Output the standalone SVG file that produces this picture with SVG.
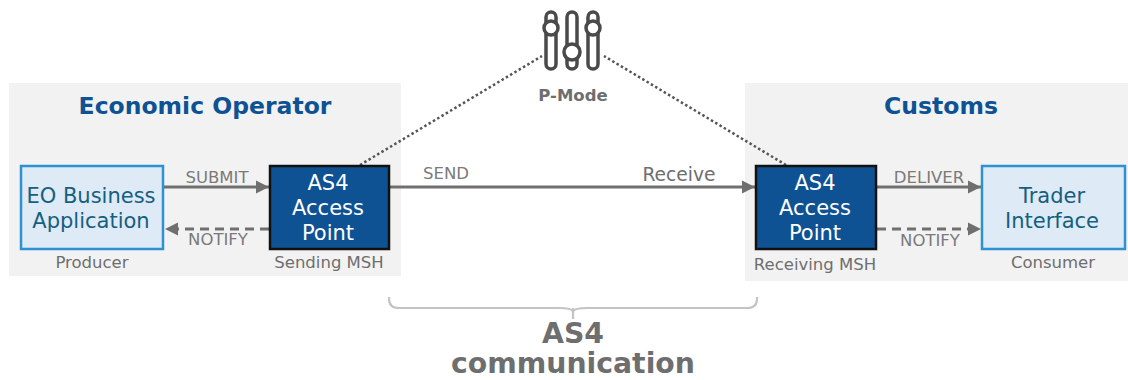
<svg xmlns="http://www.w3.org/2000/svg" width="1128" height="380" viewBox="0 0 1128 380">
<style>
text{font-family:"DejaVu Sans",Verdana,sans-serif;text-anchor:middle}
.panel{fill:#f2f2f2}
.title{font-size:23.500px;font-weight:bold;fill:#0f5294}
.app rect{fill:#deeaf6;stroke:#2e92d2;stroke-width:2.500}
.app text{font-size:21px;fill:#15607f}
.ap rect{fill:#0f5294;stroke:#111;stroke-width:2.500}
.ap text{font-size:21px;fill:#fff}
.cap{font-size:16.500px;fill:#6e6e6e}
.lbl{font-size:16.500px;fill:#7a7a7a}
.c{fill:none;stroke:#6f6f6f;stroke-width:3}
.d{stroke-dasharray:9 6}
.dot{fill:none;stroke:#555;stroke-width:2.500;stroke-dasharray:2.500 2.500}
.ic{fill:#fff;stroke:#4a4a4a;stroke-width:3.500}
.big{font-size:28.300px;font-weight:bold;fill:#6e6e6e}
</style>
<defs>
<marker id="a" markerUnits="userSpaceOnUse" markerWidth="16" markerHeight="16" refX="14" refY="8" orient="auto"><path d="M1 1.500L14 8L1 14.500Z" fill="#6f6f6f"/></marker>
</defs>
<g id="panel-eo"><rect class="panel" x="9" y="83" width="392" height="193"/><text class="title" x="205" y="114">Economic Operator</text></g>
<g id="panel-customs"><rect class="panel" x="745" y="83" width="383" height="198"/><text class="title" x="941" y="114">Customs</text></g>
<g id="connectors">
<path class="c" d="M164 187H269" marker-end="url(#a)"/>
<path class="c d" d="M269 229H165" marker-end="url(#a)"/>
<path class="c" d="M390 187H755" marker-end="url(#a)"/>
<path class="c" d="M877 187H981" marker-end="url(#a)"/>
<path class="c d" d="M877 229H981" marker-end="url(#a)"/>
<path class="dot" d="M360 165L542 56"/>
<path class="dot" d="M786 165L604 56"/>
<path d="M389 297V299Q389 308 399 308H558Q573 308 573 312Q573 308 588 308H747Q757 308 757 299V297M573 308V319" fill="none" stroke="#c4c4c4" stroke-width="2.200"/>
</g>
<g id="eo-app" class="app"><rect x="21" y="166" width="142" height="83"/><text x="91" y="203">EO Business</text><text x="91" y="228">Application</text></g>
<text class="cap" x="92" y="268">Producer</text>
<g id="ap-send" class="ap"><rect x="270" y="166" width="119" height="83"/><text x="328" y="190">AS4</text><text x="328" y="215">Access</text><text x="328" y="240">Point</text></g>
<text class="cap" x="329" y="268">Sending MSH</text>
<g id="ap-recv" class="ap"><rect x="756" y="166" width="120" height="83"/><text x="815" y="190">AS4</text><text x="815" y="215">Access</text><text x="815" y="240">Point</text></g>
<text class="cap" x="815" y="270">Receiving MSH</text>
<g id="trader" class="app"><rect x="982" y="166" width="143" height="83"/><text x="1052" y="203">Trader</text><text x="1052" y="228">Interface</text></g>
<text class="cap" x="1053" y="268">Consumer</text>
<g id="labels">
<text class="lbl" x="217" y="183">SUBMIT</text>
<text class="lbl" x="218" y="245">NOTIFY</text>
<text class="lbl" x="446" y="179">SEND</text>
<text x="679" y="181" font-size="18.700" fill="#6e6e6e">Receive</text>
<text class="lbl" x="929" y="183">DELIVER</text>
<text class="lbl" x="930" y="246">NOTIFY</text>
</g>
<g id="p-mode">
<rect class="ic" x="546" y="12" width="10" height="57" rx="5"/>
<circle class="ic" cx="551" cy="28" r="7"/>
<rect class="ic" x="567" y="12" width="10" height="57" rx="5"/>
<circle class="ic" cx="572" cy="52" r="8"/>
<rect class="ic" x="588" y="12" width="10" height="57" rx="5"/>
<circle class="ic" cx="593" cy="28" r="7"/>
<text x="573" y="101" font-size="16.500" font-weight="bold" fill="#6e6e6e">P-Mode</text>
</g>
<g id="as4-comm"><text class="big" x="573" y="343">AS4</text><text class="big" x="573" y="373">communication</text></g>
</svg>
